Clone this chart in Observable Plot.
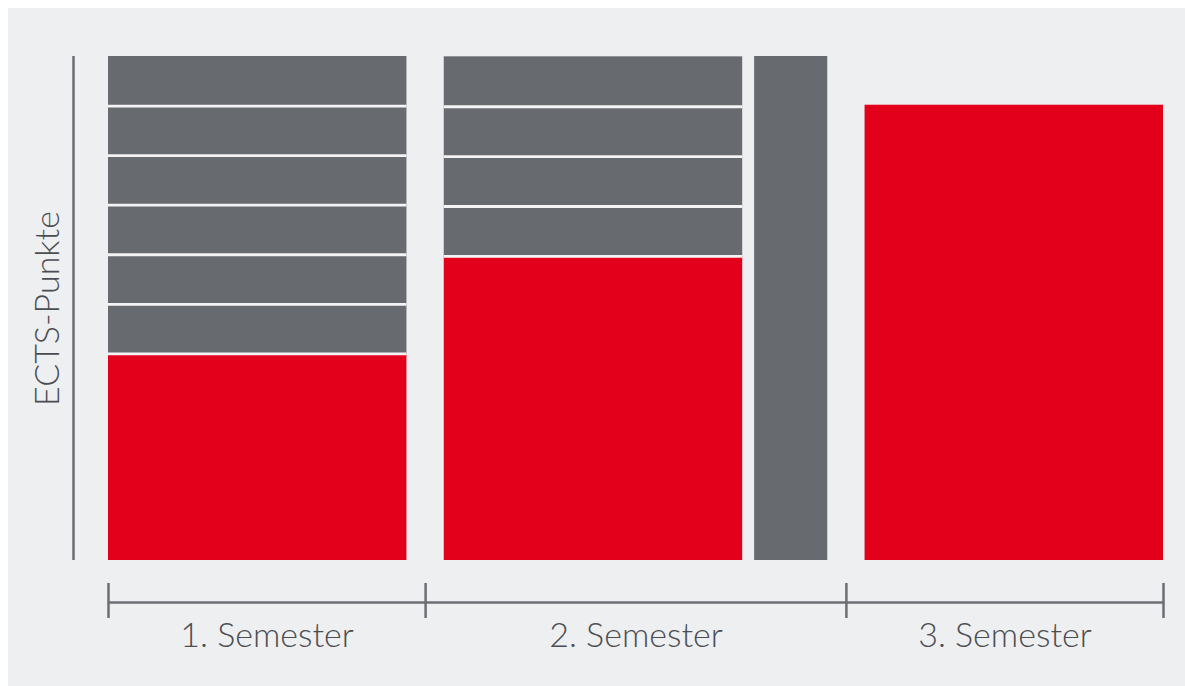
<!DOCTYPE html>
<html><head><meta charset="utf-8">
<script src="https://cdn.jsdelivr.net/npm/d3@7"></script>
<script src="https://cdn.jsdelivr.net/npm/@observablehq/plot@0.6"></script>
<style>
html,body{margin:0;padding:0;background:#fff;}
#chart{position:absolute;left:8px;top:8px;width:1177px;height:678px;background:#eeeff1;}
#chart svg{display:block;}
</style></head><body><div id="chart"></div>
<script>
// ---- data ----
const semesters = ["1. Semester", "2. Semester", "3. Semester"];
const columnSemester = ["1. Semester", "2. Semester", "2. Semester", "3. Semester"];
const columnKind = ["wide", "wide", "narrow", "wide"];
const redECTS = [12.3, 18.1, 0, 27.1];
const grayBlocksECTS = [
  [2.95, 2.95, 2.95, 2.95, 2.95, 2.95],
  [2.97, 2.97, 2.97, 2.97],
  [30],
  []
];
const yLabel = "ECTS-Punkte";

// ---- layout (abstract units) ----
const W = {wide: 4, narrow: 0.98};
const innerGap = 0.16, pad = 0.25;
let cursor = 0;
const ticks = [0];
const cols = [];
columnSemester.forEach((s, i) => {
  if (i > 0 && s !== columnSemester[i - 1]) { cursor += pad; ticks.push(cursor); cursor += pad; }
  else if (i > 0) cursor += innerGap;
  cols.push({x1: cursor, x2: cursor + W[columnKind[i]]});
  cursor += W[columnKind[i]];
});
ticks.push(cursor);
const semLabels = semesters.map((s, i) => ({s, x: (ticks[i] + ticks[i + 1]) / 2}));

const RED = "#e2001a", GRAY = "#676a6f", AX = "#6b6e73", TXT = "#4b4d50";
const segments = [];
const separators = [];
cols.forEach((c, i) => {
  let y = 0;
  if (redECTS[i] > 0) { segments.push({...c, y1: 0, y2: redECTS[i], fill: RED}); y = redECTS[i]; }
  grayBlocksECTS[i].forEach(v => {
    if (y > 0) separators.push({...c, y});
    segments.push({...c, y1: y, y2: y + v, fill: GRAY});
    y += v;
  });
});

const chart = Plot.plot({
  width: 1177, height: 678, margin: 0,
  x: {domain: [0, cursor], range: [100, 1155], axis: null},
  y: {domain: [0, 30], range: [552, 48], axis: null},
  color: {type: "identity"},
  style: {background: "transparent", fontFamily: "Lato, 'Open Sans', sans-serif"},
  marks: [
    Plot.rect(segments, {x1: "x1", x2: "x2", y1: "y1", y2: "y2", fill: "fill"}),
    Plot.ruleY(separators, {y: "y", x1: "x1", x2: "x2", stroke: "#f4f4f6", strokeWidth: 2.8}),
    Plot.ruleX([0], {y1: 0, y2: 30, dx: -35, stroke: AX, strokeWidth: 2.5}),
    Plot.ruleY([0], {x1: ticks[0], x2: ticks[ticks.length - 1], dy: 42, stroke: AX, strokeWidth: 2.5}),
    Plot.ruleX(ticks, {x: d => d, y1: 0, y2: 0, dy: 40.5, insetTop: -17.5, insetBottom: -17.5, stroke: AX, strokeWidth: 2.5}),
    Plot.text(semLabels, {x: "x", y: 0, text: "s", dy: 76, fontSize: 34, fill: TXT, fontWeight: 300}),
    Plot.text([yLabel], {x: 0, y: 15, text: d => d, dx: -60, rotate: -90, fontSize: 34, fill: TXT, fontWeight: 300})
  ]
});
document.getElementById("chart").appendChild(chart);
</script></body></html>
